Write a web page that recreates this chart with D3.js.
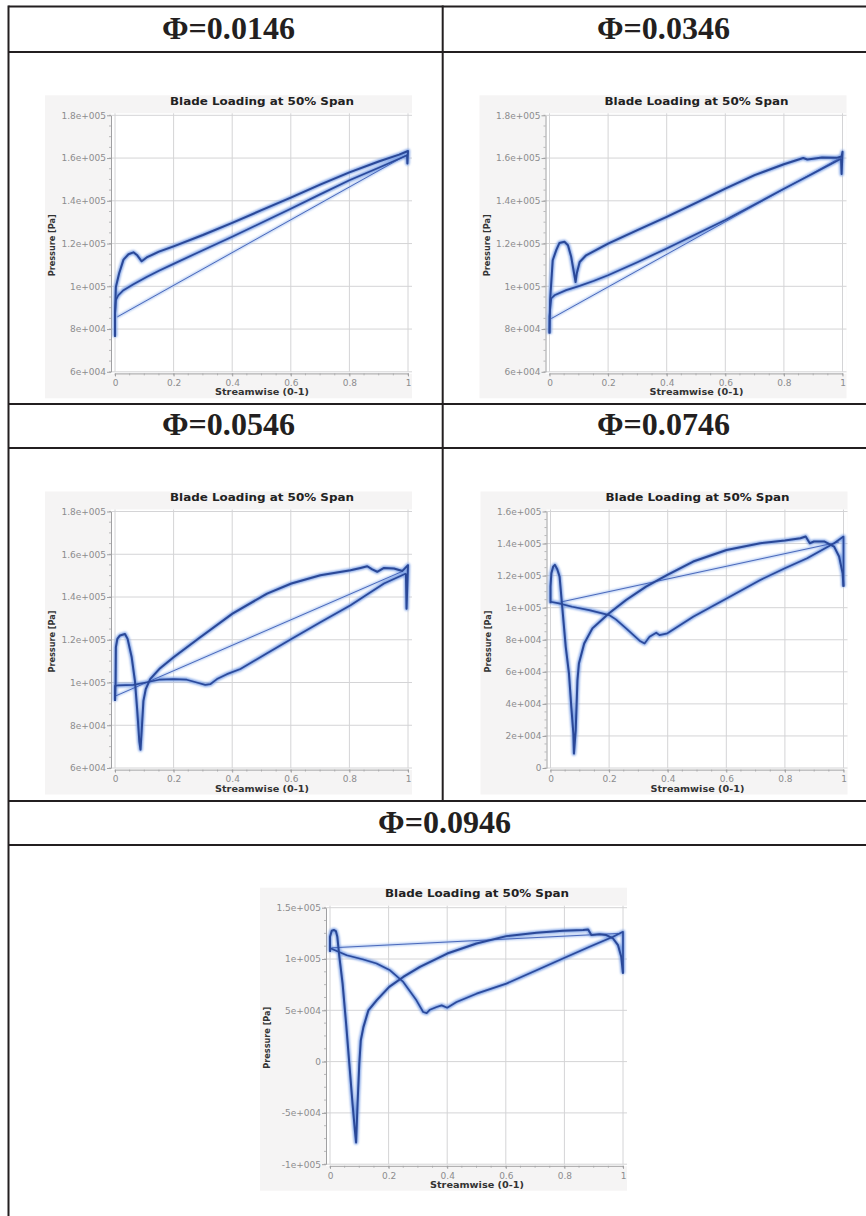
<!DOCTYPE html>
<html>
<head>
<meta charset="utf-8">
<script src="https://cdn.jsdelivr.net/npm/d3@7"></script>
<style>
  html, body { margin: 0; padding: 0; background: #fff; }
  svg { display: block; }
</style>
</head>
<body>
<svg id="fig" width="866" height="1216"></svg>
<script>
// Flow coefficient of each case
const phiLabels = ["Φ=0.0146", "Φ=0.0346", "Φ=0.0546", "Φ=0.0746", "Φ=0.0946"];

// Streamwise axis
const xTicks = [0, 0.2, 0.4, 0.6, 0.8, 1];
const xTickLabels = ["0", "0.2", "0.4", "0.6", "0.8", "1"];

// Pressure axes
const yTicksA = [60000, 80000, 100000, 120000, 140000, 160000, 180000];
const yTickLabelsA = ["6e+004", "8e+004", "1e+005", "1.2e+005", "1.4e+005", "1.6e+005", "1.8e+005"];
const yTicksB = [0, 20000, 40000, 60000, 80000, 100000, 120000, 140000, 160000];
const yTickLabelsB = ["0", "2e+004", "4e+004", "6e+004", "8e+004", "1e+005", "1.2e+005", "1.4e+005", "1.6e+005"];
const yTicksC = [-100000, -50000, 0, 50000, 100000, 150000];
const yTickLabelsC = ["-1e+005", "-5e+004", "0", "5e+004", "1e+005", "1.5e+005"];

// Blade loading at 50% span: [streamwise, pressure Pa]
// Φ=0.0146
const phi0146Upper = [[0,76400],[0,87300],[0.003,99700],[0.014,106000],[0.029,112500],[0.046,115000],[0.063,115900],[0.076,114500],[0.091,111700],[0.108,113500],[0.15,116200],[0.2,118700],[0.3,124000],[0.4,129700],[0.5,135600],[0.6,141500],[0.7,147600],[0.8,153300],[0.9,158400],[0.97,161600],[1,163300],[0.998,157500],[0.997,161300]];
const phi0146Lower = [[0.997,161300],[0.9,155500],[0.8,149600],[0.7,143000],[0.6,136300],[0.5,129700],[0.4,123200],[0.3,116900],[0.2,110500],[0.15,107300],[0.108,104400],[0.063,101000],[0.029,98200],[0.011,95800],[0.003,93500],[0,86000],[0,76400]];
const phi0146Chord = [[0.008,85700],[1,161800]];

// Φ=0.0346
const phi0346Upper = [[0,77900],[0.002,93500],[0.011,112200],[0.023,116900],[0.034,120300],[0.051,120800],[0.063,119200],[0.074,113800],[0.082,107500],[0.089,102000],[0.093,106000],[0.103,111400],[0.125,114500],[0.2,120000],[0.3,126300],[0.4,132500],[0.5,139000],[0.6,145700],[0.7,152000],[0.8,157100],[0.866,160000],[0.88,159300],[0.9,159700],[0.93,160300],[0.98,160100],[0.997,160800],[1,162900],[0.997,152500],[0.995,159700]];
const phi0346Lower = [[0.995,159700],[0.9,152800],[0.8,145600],[0.7,138300],[0.6,131000],[0.5,124300],[0.4,117700],[0.3,111300],[0.2,105200],[0.15,102500],[0.103,100200],[0.057,98200],[0.017,95800],[0.006,94300],[0,86000],[0,77900]];
const phi0346Chord = [[0.006,84900],[0.997,160500]];

// Φ=0.0546
const phi0546Upper = [[0,91400],[0.002,100000],[0.003,116500],[0.008,120400],[0.017,122000],[0.034,122700],[0.043,120400],[0.057,111800],[0.068,100800],[0.076,86700],[0.083,72500],[0.087,68600],[0.091,77300],[0.097,91400],[0.105,96900],[0.12,101600],[0.154,106700],[0.2,111800],[0.291,121200],[0.401,132200],[0.519,141600],[0.602,146300],[0.701,150200],[0.804,152500],[0.838,153600],[0.861,154400],[0.878,152900],[0.895,151800],[0.918,153600],[0.952,153300],[0.981,152200],[1,154900],[0.995,134500],[0.993,151000]];
const phi0546Lower = [[0.993,151000],[0.918,146300],[0.804,136100],[0.701,128200],[0.602,120400],[0.519,113700],[0.428,106300],[0.382,103900],[0.348,101600],[0.325,99200],[0.308,98900],[0.279,100000],[0.245,101300],[0.2,101600],[0.15,101300],[0.105,100000],[0.063,98900],[0.011,98700],[0,98400],[0,91400]];
const phi0546Chord = [[0.002,93700],[0.981,152000]];

// Φ=0.0746
const phi0746Upper = [[0,102700],[0,113100],[0.003,121500],[0.009,125600],[0.015,126700],[0.023,124000],[0.031,119400],[0.04,100600],[0.052,75600],[0.063,59000],[0.071,38100],[0.078,21500],[0.08,9000],[0.086,23500],[0.092,54800],[0.097,65200],[0.115,77700],[0.143,87100],[0.2,96500],[0.258,104800],[0.326,113100],[0.399,120400],[0.487,128800],[0.601,136000],[0.716,140200],[0.8,141900],[0.853,143300],[0.871,144400],[0.885,140200],[0.899,141300],[0.934,141300],[0.968,138100],[0.985,131900],[0.997,121500],[1,113100]];
const phi0746Lower = [[1,113100],[1,144400],[0.968,140200],[0.876,130800],[0.8,124600],[0.716,117300],[0.601,105800],[0.487,94400],[0.399,84000],[0.372,82900],[0.361,84400],[0.338,81900],[0.321,77700],[0.304,79400],[0.258,87100],[0.223,92700],[0.2,95400],[0.132,98500],[0.074,100600],[0.029,102700],[0,103700]];
const phi0746Chord = [[0.034,103500],[0.985,141000]];

// Φ=0.0946
const phi0946Upper = [[0,107000],[0,121600],[0.006,127500],[0.014,128200],[0.02,127200],[0.025,121600],[0.032,102100],[0.043,76000],[0.055,36900],[0.066,-2200],[0.077,-41300],[0.085,-67400],[0.089,-78800],[0.094,-41300],[0.1,-2000],[0.105,20600],[0.114,33600],[0.131,49900],[0.159,59700],[0.202,72800],[0.25,82500],[0.307,92300],[0.4,105300],[0.5,115100],[0.602,122300],[0.705,125600],[0.795,127500],[0.864,128200],[0.881,128800],[0.892,123300],[0.92,124200],[0.943,123300],[0.966,120000],[0.983,113500],[0.994,102100],[1,85800]];
const phi0946Lower = [[1,85800],[1,126500],[0.966,121600],[0.886,111900],[0.795,100500],[0.705,89000],[0.602,76000],[0.5,66200],[0.432,58100],[0.4,52500],[0.381,54800],[0.364,53200],[0.341,50600],[0.33,47300],[0.318,48300],[0.295,59700],[0.25,77600],[0.205,89000],[0.159,95600],[0.114,99500],[0.057,103700],[0.017,108600],[0.002,110500],[0,107000]];
const phi0946Chord = [[0.006,110900],[0.983,124900]];

const panels = [
  { label: phiLabels[0], upper: phi0146Upper, lower: phi0146Lower, chord: phi0146Chord, yTicks: yTicksA, yLabels: yTickLabelsA },
  { label: phiLabels[1], upper: phi0346Upper, lower: phi0346Lower, chord: phi0346Chord, yTicks: yTicksA, yLabels: yTickLabelsA },
  { label: phiLabels[2], upper: phi0546Upper, lower: phi0546Lower, chord: phi0546Chord, yTicks: yTicksA, yLabels: yTickLabelsA },
  { label: phiLabels[3], upper: phi0746Upper, lower: phi0746Lower, chord: phi0746Chord, yTicks: yTicksB, yLabels: yTickLabelsB },
  { label: phiLabels[4], upper: phi0946Upper, lower: phi0946Lower, chord: phi0946Chord, yTicks: yTicksC, yLabels: yTickLabelsC }
];

// ---- page layout ----
const svg = d3.select("#fig");
const ink = "#231f20";
const table = { left: 8.5, right: 881, mid: 442.7, rows: [6.5, 52, 404, 448, 801, 845] };
const headerPos = [[228.5, 38.5], [663.5, 38.5], [228.5, 435], [663.5, 435], [444.6, 832.5]];
const plotOrigin = [[115, 115.3], [549.5, 115.3], [115, 511.5], [550.5, 511.5], [330, 907.7]];
const PW = 293, PH = 256.5;

const defs = svg.append("defs");
defs.append("filter").attr("id", "glow").attr("x", "-5%").attr("y", "-5%").attr("width", "110%").attr("height", "110%")
  .append("feGaussianBlur").attr("stdDeviation", 0.9);
defs.append("filter").attr("id", "soft")
  .append("feGaussianBlur").attr("stdDeviation", 0.35);

// table rules
const grid = svg.append("g").attr("stroke", ink).attr("stroke-width", 2).attr("fill", "none");
table.rows.forEach(yv => grid.append("line").attr("x1", table.left).attr("x2", table.right).attr("y1", yv).attr("y2", yv));
grid.append("line").attr("x1", table.left).attr("x2", table.left).attr("y1", table.rows[0] - 1).attr("y2", 1230);
grid.append("line").attr("x1", table.right).attr("x2", table.right).attr("y1", table.rows[0] - 1).attr("y2", 1230);
grid.append("line").attr("x1", table.mid).attr("x2", table.mid).attr("y1", table.rows[0] - 1).attr("y2", table.rows[4]);

// header cells
panels.forEach((p, i) => {
  svg.append("text")
    .attr("x", headerPos[i][0]).attr("y", headerPos[i][1])
    .attr("text-anchor", "middle")
    .attr("font-family", "'Liberation Serif', 'Times New Roman', serif")
    .attr("font-weight", "bold").attr("font-size", 31)
    .attr("textLength", 133).attr("lengthAdjust", "spacingAndGlyphs")
    .attr("fill", ink)
    .text(p.label);
});

// ---- one blade-loading plot per case ----
function drawPanel(p, i) {
  const [x0, yT] = plotOrigin[i];
  const yMin = d3.min(p.yTicks), yMax = d3.max(p.yTicks);
  const x = d3.scaleLinear().domain([0, 1]).range([x0, x0 + PW]);
  const y = d3.scaleLinear().domain([yMin, yMax]).range([yT + PH, yT]);
  const yB = yT + PH;
  const g = svg.append("g");

  // plot canvas
  g.append("rect").attr("x", x0 - 70).attr("y", yT - 20).attr("width", 367).attr("height", 303).attr("fill", "#f5f4f4");
  g.append("rect").attr("x", x0 - 4).attr("y", yT - 2).attr("width", PW + 8).attr("height", PH + 4).attr("fill", "#ffffff");

  // grid
  const gg = g.append("g").attr("stroke", "#d4d4d6").attr("stroke-width", 1).attr("filter", "url(#soft)");
  xTicks.forEach(t => gg.append("line").attr("x1", x(t)).attr("x2", x(t)).attr("y1", yT - 2).attr("y2", yB));
  p.yTicks.forEach(t => gg.append("line").attr("x1", x0 - 4).attr("x2", x0 + PW + 4).attr("y1", y(t)).attr("y2", y(t)));

  // minor ticks
  const step = p.yTicks[1] - p.yTicks[0];
  const minorY = d3.range(yMin, yMax + 1, step / 4);
  const minorX = d3.range(0, 1.0001, 0.05);
  const mt = g.append("g").attr("stroke", "#a9a9ab").attr("stroke-width", 0.8);
  minorY.forEach(v => mt.append("line").attr("x1", x0 - 6).attr("x2", x0 - 4).attr("y1", y(v)).attr("y2", y(v)));
  minorX.forEach(v => mt.append("line").attr("x1", x(v)).attr("x2", x(v)).attr("y1", yB + 1.6).attr("y2", yB + 3.6));

  // axes
  const yAxis = d3.axisLeft(y).tickValues(p.yTicks).tickFormat((d, k) => p.yLabels[k]).tickSize(4).tickSizeOuter(0).tickPadding(1);
  const xAxis = d3.axisBottom(x).tickValues(xTicks).tickFormat((d, k) => xTickLabels[k]).tickSize(3).tickSizeOuter(0).tickPadding(3.5);
  const ya = g.append("g").attr("transform", `translate(${x0 - 4},0)`).call(yAxis);
  const xa = g.append("g").attr("transform", `translate(0,${yB + 1.6})`).call(xAxis);
  [ya, xa].forEach(a => {
    a.select(".domain").attr("stroke", "#a0a0a2");
    a.selectAll(".tick line").attr("stroke", "#a0a0a2");
    a.selectAll(".tick text").attr("fill", "#8c8c8e").attr("font-family", "'DejaVu Sans', Verdana, sans-serif").attr("font-size", 9);
  });

  // titles
  g.append("text").attr("x", x0 + 147).attr("y", yT - 10.5).attr("text-anchor", "middle")
    .attr("font-family", "'DejaVu Sans', Verdana, sans-serif").attr("font-weight", "bold").attr("font-size", 10)
    .attr("textLength", 184).attr("lengthAdjust", "spacingAndGlyphs").attr("fill", "#222")
    .text("Blade Loading at 50% Span");
  g.append("text").attr("x", x0 + 147).attr("y", yB + 23.5).attr("text-anchor", "middle")
    .attr("font-family", "'DejaVu Sans', Verdana, sans-serif").attr("font-weight", "bold").attr("font-size", 9)
    .attr("textLength", 94).attr("lengthAdjust", "spacingAndGlyphs").attr("fill", "#333")
    .text("Streamwise (0-1)");
  g.append("text").attr("transform", `translate(${x0 - 60},${yT + 130}) rotate(-90)`).attr("text-anchor", "middle")
    .attr("font-family", "'DejaVu Sans', Verdana, sans-serif").attr("font-weight", "bold").attr("font-size", 9)
    .attr("textLength", 62).attr("lengthAdjust", "spacingAndGlyphs").attr("fill", "#333")
    .text("Pressure [Pa]");

  // loading curves
  const line = d3.line().x(d => x(d[0])).y(d => y(d[1]));
  const glow = g.append("g").attr("fill", "none").attr("stroke-linejoin", "round").attr("filter", "url(#glow)");
  glow.append("path").datum(p.chord).attr("d", line).attr("stroke", "#a9c3f0").attr("stroke-width", 2.4);
  [p.upper, p.lower].forEach(c => glow.append("path").datum(c).attr("d", line).attr("stroke", "#7fa3e6").attr("stroke-width", 4.2));
  const core = g.append("g").attr("fill", "none").attr("stroke-linejoin", "round");
  core.append("path").datum(p.chord).attr("d", line).attr("stroke", "#3d5cb4").attr("stroke-width", 0.9);
  core.append("path").datum(p.lower).attr("d", line).attr("stroke", "#2b4a9c").attr("stroke-width", 1.7);
  core.append("path").datum(p.upper).attr("d", line).attr("stroke", "#2a4898").attr("stroke-width", 2.0);
}

panels.forEach(drawPanel);
</script>
</body>
</html>
